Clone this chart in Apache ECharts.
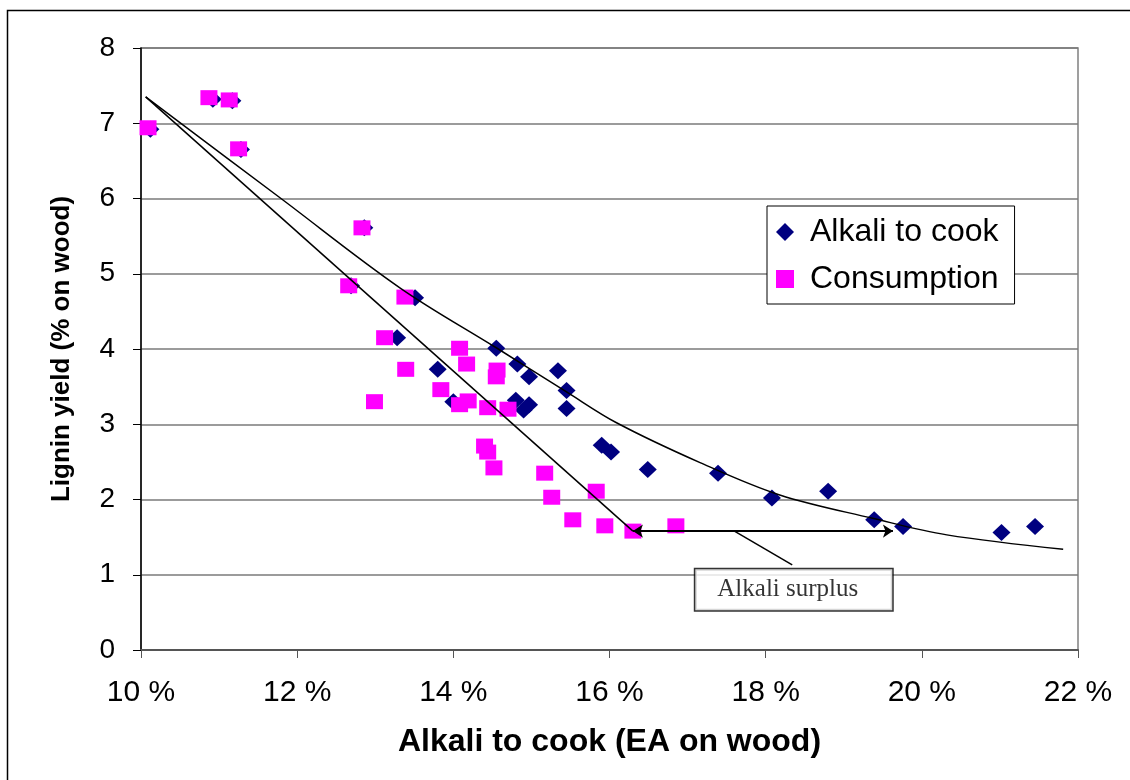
<!DOCTYPE html>
<html>
<head>
<meta charset="utf-8">
<script src="https://cdn.jsdelivr.net/npm/echarts@6/dist/echarts.min.js"></script>
<style>html,body{margin:0;padding:0;background:#fff;}#c{width:1130px;height:780px;}</style>
</head>
<body>
<div id="c"></div>
<script>
// Alkali to cook (blue diamonds): x = % EA on wood, y = lignin yield
const alkaliX = [10.12, 10.92, 11.17, 11.28, 12.86, 12.69, 13.51, 13.28, 13.80, 14.00, 14.55, 14.82, 14.97, 15.34, 15.45, 14.80, 14.90, 14.97, 15.45, 15.90, 16.02, 16.49, 17.39, 18.08, 18.80, 19.39, 19.76, 21.02, 21.45];
const alkaliY = [6.92, 7.32, 7.30, 6.65, 5.61, 4.84, 4.68, 4.15, 3.73, 3.30, 4.01, 3.80, 3.63, 3.71, 3.45, 3.32, 3.19, 3.26, 3.21, 2.72, 2.63, 2.40, 2.35, 2.02, 2.11, 1.73, 1.64, 1.56, 1.64];
// Consumption (pink squares)
const consX = [10.09, 10.87, 11.13, 11.25, 12.83, 12.66, 13.38, 13.12, 13.39, 12.99, 14.08, 14.17, 13.84, 14.08, 14.19, 14.56, 14.55, 14.44, 14.70, 14.40, 14.44, 14.52, 15.17, 15.26, 15.53, 15.83, 15.94, 16.30, 16.85];
const consY = [6.94, 7.34, 7.31, 6.66, 5.61, 4.84, 4.69, 4.15, 3.73, 3.30, 4.01, 3.80, 3.46, 3.26, 3.31, 3.72, 3.63, 3.22, 3.20, 2.71, 2.63, 2.42, 2.35, 2.03, 1.73, 2.11, 1.65, 1.58, 1.65];
// Trend curve through "Alkali to cook"
const curveX = [10.06, 11.78, 13.32, 14.56, 15.45, 16.09, 17.16, 18.18, 19.37, 20.32, 21.81];
const curveY = [7.35, 6.01, 4.81, 4.01, 3.43, 3.02, 2.49, 2.06, 1.75, 1.53, 1.34];
// Straight trend line through "Consumption"
const lineX = [10.06, 16.30];
const lineY = [7.35, 1.58];
// Annotation
const arrowX = [16.30, 19.63];
const arrowY = [1.58, 1.58];
const leaderX = [17.60, 18.34];
const leaderY = [1.58, 1.13];
const noteX = 18.36, noteY = 0.80;
const noteText = 'Alkali surplus';
// Axis ticks
const xMin = 10, xMax = 22, xStep = 2;
const yMin = 0, yMax = 8, yStep = 1;

const zip = (a, b) => a.map((v, i) => [v, b[i]]);
const font = 'Liberation Sans, Arial, sans-serif';

const chart = echarts.init(document.getElementById('c'), null, {renderer: 'canvas'});
chart.setOption({
  backgroundColor: '#fff',
  animation: false,
  grid: {left: 141, right: 52, top: 48, bottom: 130, show: true, borderColor: '#808080', borderWidth: 1.5},
  graphic: [{type: 'rect', left: 5, top: 8, shape: {width: 1140, height: 800}, style: {fill: 'none', stroke: '#000', lineWidth: 1.5}, z: -1}],
  legend: {
    orient: 'vertical', left: 767, top: 206,
    data: ['Alkali to cook', 'Consumption'],
    itemWidth: 18, itemHeight: 18, itemGap: 15,
    padding: [10, 16, 9, 9],
    backgroundColor: '#fff', borderColor: '#000', borderWidth: 1,
    textStyle: {fontFamily: font, fontSize: 32, color: '#000', padding: [0, 0, 0, 11]}
  },
  xAxis: {
    type: 'value', min: xMin, max: xMax, interval: xStep,
    name: 'Alkali to cook (EA on wood)', nameLocation: 'middle', nameGap: 76,
    nameTextStyle: {fontFamily: font, fontSize: 32, fontWeight: 'bold', color: '#000'},
    axisLine: {show: true, onZero: false, lineStyle: {color: '#555', width: 2}},
    axisTick: {show: true, length: 8, lineStyle: {color: '#555'}},
    axisLabel: {formatter: '{value} %', fontFamily: font, fontSize: 30, color: '#000', margin: 28},
    splitLine: {show: false}
  },
  yAxis: {
    type: 'value', min: yMin, max: yMax, interval: yStep,
    name: 'Lignin yield (% on wood)', nameLocation: 'middle', nameGap: 66,
    nameTextStyle: {fontFamily: font, fontSize: 26, fontWeight: 'bold', color: '#000'},
    axisLine: {show: true, onZero: false, lineStyle: {color: '#000', width: 1.5}},
    axisTick: {show: true, length: 8, lineStyle: {color: '#000'}},
    axisLabel: {fontFamily: font, fontSize: 28, color: '#000', margin: 26},
    splitLine: {show: true, lineStyle: {color: '#7a7a7a', width: 1.5}}
  },
  series: [
    {name: 'Alkali to cook', type: 'scatter', symbol: 'diamond', symbolSize: [18, 17],
     itemStyle: {color: '#000080', opacity: 1}, data: zip(alkaliX, alkaliY), z: 3},
    {name: 'Consumption', type: 'scatter', symbol: 'rect', symbolSize: [17, 15],
     itemStyle: {color: '#ff00ff', opacity: 1}, data: zip(consX, consY), z: 4},
    {type: 'line', data: zip(curveX, curveY), smooth: 0.35, symbol: 'none',
     lineStyle: {color: '#000', width: 1.5}, z: 5, silent: true},
    {type: 'line', data: zip(lineX, lineY), symbol: 'none',
     lineStyle: {color: '#000', width: 1.5}, z: 5, silent: true},
    {type: 'lines', coordinateSystem: 'cartesian2d', z: 6, silent: true,
     symbol: ['arrow', 'arrow'], symbolSize: [10, 10],
     lineStyle: {color: '#000', width: 2, opacity: 1},
     data: [{coords: zip(arrowX, arrowY)}]},
    {type: 'lines', coordinateSystem: 'cartesian2d', z: 6, silent: true,
     symbol: ['none', 'none'],
     lineStyle: {color: '#000', width: 1.5, opacity: 1},
     data: [{coords: zip(leaderX, leaderY)}]},
    {type: 'scatter', symbolSize: 0, z: 7, silent: true,
     data: [[noteX, noteY]],
     label: {show: true, position: 'inside', formatter: noteText,
       fontFamily: 'Liberation Serif, Times New Roman, serif', fontSize: 25, color: '#000',
       backgroundColor: '#fff', borderColor: '#000', borderWidth: 1.5,
       padding: [8, 34, 8, 22]}}
  ]
});
</script>
</body>
</html>
